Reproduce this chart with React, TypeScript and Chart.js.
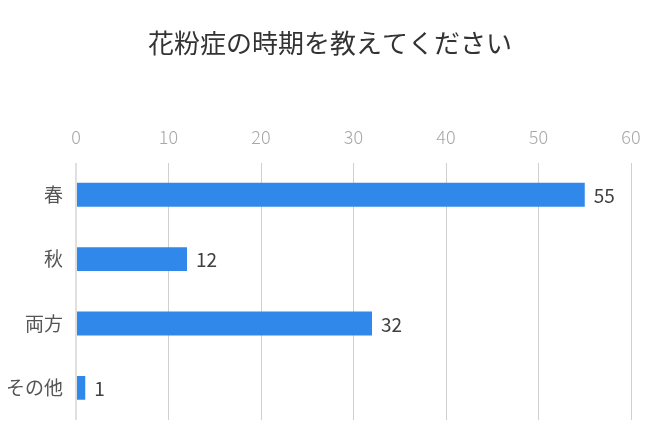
import React, { useEffect, useRef } from 'react';
import { Chart, registerables } from 'chart.js';

Chart.register(...registerables);

const chartTitle = '花粉症の時期を教えてください';
const categories = ['春', '秋', '両方', 'その他'];
const answers = [55, 12, 32, 1];
const tickMax = 60;
const tickStep = 10;

const FONT = '"Noto Sans CJK JP", "Noto Sans", sans-serif';

// draws the count just right of each bar
const valueLabels = {
    id: 'valueLabels',
    afterDatasetsDraw(chart: any) {
        const { ctx } = chart;
        const meta = chart.getDatasetMeta(0);
        ctx.save();
        ctx.font = `19px ${FONT}`;
        ctx.fillStyle = '#404040';
        ctx.textAlign = 'left';
        ctx.textBaseline = 'middle';
        meta.data.forEach((bar: any, i: number) => {
            ctx.fillText(String(chart.data.datasets[0].data[i]), bar.x + 9, bar.y + 1);
        });
        ctx.restore();
    }
};

// title centred on the whole canvas, not on the padded box
const centredTitle = {
    id: 'centredTitle',
    afterDraw(chart: any) {
        const { ctx } = chart;
        ctx.save();
        ctx.font = `26px ${FONT}`;
        ctx.fillStyle = '#333333';
        ctx.textAlign = 'center';
        ctx.textBaseline = 'middle';
        ctx.fillText(chartTitle, chart.width / 2, 43);
        ctx.restore();
    }
};

export default function App() {
    const canvasRef = useRef<HTMLCanvasElement>(null);
    const chartRef = useRef<Chart | null>(null);

    useEffect(() => {
        if (!canvasRef.current) return;
        if (chartRef.current) chartRef.current.destroy();

        const ctx = canvasRef.current.getContext('2d');
        if (!ctx) return;

        chartRef.current = new Chart(ctx, {
            type: 'bar',
            data: {
                labels: categories,
                datasets: [
                    {
                        data: answers,
                        backgroundColor: '#2f88ea',
                        barPercentage: 0.37,
                        categoryPercentage: 1
                    }
                ]
            },
            options: {
                indexAxis: 'y',
                responsive: true,
                maintainAspectRatio: false,
                animation: false,
                layout: {
                    padding: { top: 111, left: 4, right: 29, bottom: 25 }
                },
                plugins: {
                    legend: { display: false },
                    tooltip: { enabled: false },
                    title: { display: false }
                },
                scales: {
                    x: {
                        position: 'top',
                        min: 0,
                        max: tickMax,
                        ticks: {
                            stepSize: tickStep,
                            padding: 15,
                            color: '#a8a8a8',
                            font: { family: FONT, size: 18, weight: 300 }
                        },
                        grid: {
                            drawTicks: false,
                            color: (c: any) => (c.index === 0 ? '#e0e0e0' : '#d0d0d0'),
                            lineWidth: (c: any) => (c.index === 0 ? 2 : 1)
                        },
                        border: { display: false }
                    },
                    y: {
                        afterFit: (scale: any) => {
                            scale.width = 72;
                        },
                        ticks: {
                            padding: 13,
                            color: '#555555',
                            font: { family: FONT, size: 19 }
                        },
                        grid: { display: false, drawTicks: false },
                        border: { display: false }
                    }
                }
            },
            plugins: [valueLabels, centredTitle]
        });

        return () => {
            if (chartRef.current) {
                chartRef.current.destroy();
                chartRef.current = null;
            }
        };
    }, []);

    return (
        <div style={{ position: 'absolute', left: 0, top: 0, width: 660, height: 445, background: '#fff' }}>
            <canvas ref={canvasRef} />
        </div>
    );
}
